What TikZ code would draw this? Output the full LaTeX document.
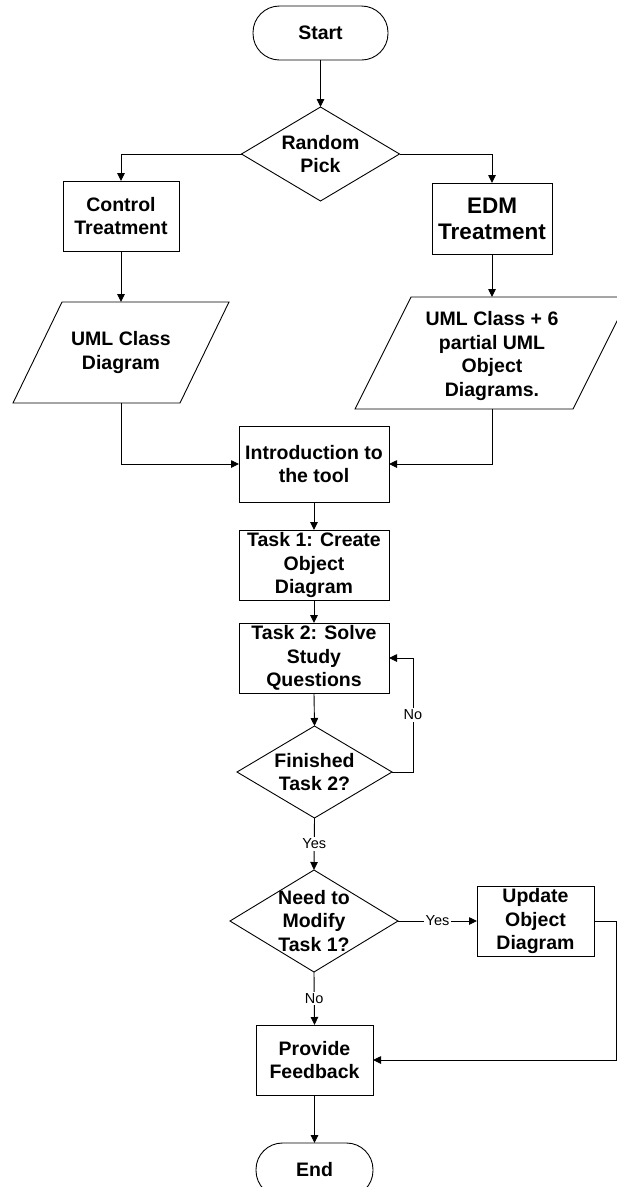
\documentclass[tikz,border=0pt]{standalone}
\usepackage{fontspec}
\setmainfont{Liberation Sans}
\usetikzlibrary{shapes.geometric,arrows.meta}
\begin{document}
\begin{tikzpicture}[x=1pt,y=-1pt,
  line width=0.9pt,
  every node/.style={inner sep=0pt, outer sep=0pt},
  txt/.style={align=center, font=\fontsize{19.5}{23.4}\selectfont\bfseries},
  bigtxt/.style={align=center, font=\fontsize{22.5}{26}\selectfont\bfseries},
  process/.style={draw, rectangle, txt},
  terminal/.style={draw, rectangle, rounded corners=26.5pt, txt,
    minimum width=135pt, minimum height=54pt},
  decision/.style={draw, diamond},
  iobox/.style={rectangle},
  lbl/.style={fill=white, font=\fontsize{14.5}{16}\selectfont, inner sep=1.5pt},
  flow/.style={-{Triangle[length=8pt,width=7.5pt]}}
]
\useasboundingbox (0,0) rectangle (617,1187);

% start and random assignment
\node[terminal] (start) at (320.5,33) {Start};
\node[decision, minimum width=158pt, minimum height=94pt] (pick) at (320.5,154) {};
\node[txt] (pickText) at (pick) {Random\\Pick};

% the two treatments
\node[process, minimum width=116pt, minimum height=70pt] (ctrl) at (121,216) {Control\\Treatment};
\node[process, bigtxt, minimum width=120pt, minimum height=71pt] (edm) at (492,218.5) {EDM\\Treatment};

% material handed out (parallelograms)
\node[iobox, minimum width=167pt, minimum height=101pt] (ucd) at (121,352.5) {};
\node[txt] (ucdText) at (ucd) {UML Class\\Diagram};
\draw ([xshift=24.5pt]ucd.north west) -- ([xshift=24.5pt]ucd.north east)
   -- ([xshift=-24.5pt]ucd.south east) -- ([xshift=-24.5pt]ucd.south west) -- cycle;

\node[iobox, minimum width=218pt, minimum height=112pt] (edmd) at (492,353) {};
\node[txt] (edmdText) at (492,356) {UML Class + 6\\partial UML\\Object\\Diagrams.};
\draw ([xshift=28pt]edmd.north west) -- ([xshift=28pt]edmd.north east)
   -- ([xshift=-28pt]edmd.south east) -- ([xshift=-28pt]edmd.south west) -- cycle;

% main sequence
\node[process, minimum width=150pt, minimum height=76pt] (intro) at (314,464) {Introduction to\\the tool};
\node[process, minimum width=150pt, minimum height=70pt] (task1) at (314,565) {Task 1: Create\\Object\\Diagram};
\node[process, minimum width=150pt, minimum height=70pt] (task2) at (314,658) {Task 2: Solve\\Study\\Questions};

\node[decision, minimum width=155pt, minimum height=92pt] (fin) at (314.5,772) {};
\node[txt] (finText) at (fin) {Finished\\Task 2?};

\node[decision, minimum width=168pt, minimum height=102pt] (modify) at (314,921) {};
\node[txt] (modifyText) at (modify) {Need to\\Modify\\Task 1?};

\node[process, minimum width=117pt, minimum height=70pt] (upd) at (535.5,921) {Update\\Object\\Diagram};
\node[process, minimum width=117pt, minimum height=70pt] (prov) at (314.5,1060) {Provide\\Feedback};
\node[terminal, minimum width=117pt] (endT) at (314.5,1170) {End};

% bend points of the return loops
\coordinate (noBend) at (413,772);
\coordinate (updBend) at (616,921);

% connectors
\draw[flow] (start.south) -- (pick.north);
\draw[flow] (pick.west) -| (ctrl.north);
\draw[flow] (pick.east) -| (edm.north);
\draw[flow] (ctrl.south) -- (ucd.north);
\draw[flow] (edm.south) -- (edmd.north);
\draw[flow] (ucd.south) |- (intro.west);
\draw[flow] (edmd.south) |- (intro.east);
\draw[flow] (intro.south) -- (task1.north);
\draw[flow] (task1.south) -- (task2.north);
\draw[flow] (task2.south) -- (fin.north);
\draw[flow] (fin.east) -- (noBend) |- node[lbl, pos=0.25] {No} (task2.east);
\draw[flow] (fin.south) -- node[lbl] {Yes} (modify.north);
\draw[flow] (modify.east) -- node[lbl] {Yes} (upd.west);
\draw[flow] (upd.east) -- (updBend) |- (prov.east);
\draw[flow] (modify.south) -- node[lbl] {No} (prov.north);
\draw[flow] (prov.south) -- (endT.north);
\end{tikzpicture}
\end{document}
